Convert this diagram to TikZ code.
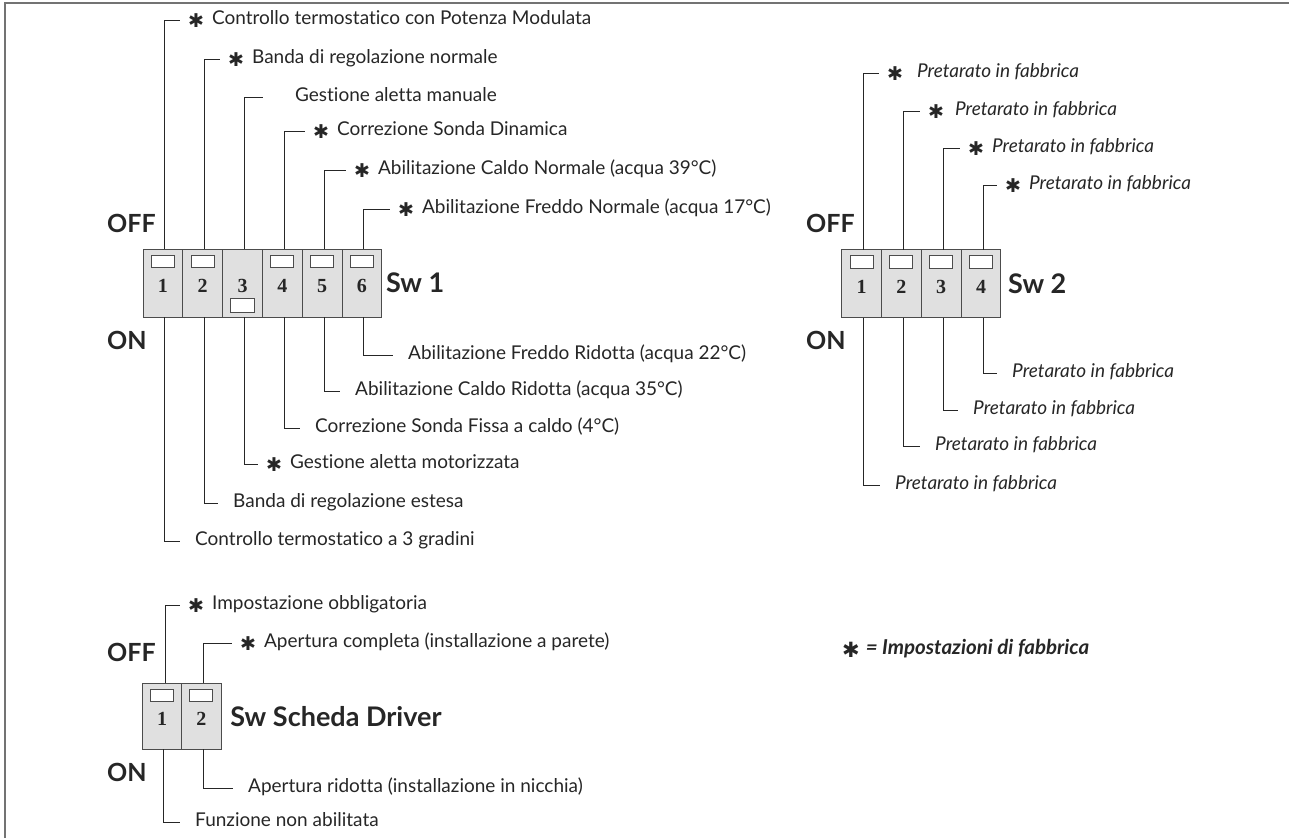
\documentclass[tikz,border=0pt]{standalone}
\usepackage{fontspec}
\setmainfont{Lato}[Ligatures=NoCommon]
\newfontfamily\starfont{DejaVu Sans}
\newfontfamily\numfont{Liberation Serif}
\usetikzlibrary{positioning}

% asterisk mark in front of a factory setting
\newcommand{\st}{\raisebox{-2.5pt}{\starfont\fontsize{19}{19}\selectfont ✱}\hspace{8pt}}
\newcommand{\nost}{\phantom{\st}}

\begin{document}
\begin{tikzpicture}
    [x=1pt, y=-1pt,
     cell/.style={draw=black!70, fill=black!12, line width=1pt,
       minimum width=39.8pt, minimum height=68pt, inner sep=0pt, outer sep=0pt,
       font=\numfont\bfseries\fontsize{20}{20}\selectfont, text=black!85,
       text height=19.5pt, text depth=0pt},
     knobup/.style={cell, path picture={
       \draw[fill=white, line width=1pt]
         ([xshift=-11.5pt, yshift=-6pt]path picture bounding box.north)
         rectangle ([xshift=11.5pt, yshift=-18.7pt]path picture bounding box.north);}},
     knobdown/.style={cell, path picture={
       \draw[fill=white, line width=1pt]
         ([xshift=-12pt, yshift=4.7pt]path picture bounding box.south)
         rectangle ([xshift=12pt, yshift=18.7pt]path picture bounding box.south);}},
     toplab/.style={anchor=west, inner xsep=8pt, inner ysep=0pt, text=black!85,
       font=\fontsize{19}{22}\selectfont, text height=13pt, text depth=4pt},
     botlab/.style={toplab, inner xsep=15pt},
     itop/.style={toplab, font=\fontsize{19}{22}\selectfont\itshape},
     ibot/.style={botlab, font=\fontsize{19}{22}\selectfont\itshape},
     state/.style={anchor=west, inner sep=0pt, text=black!85,
       font=\bfseries\fontsize{25}{25}\selectfont},
     swname/.style={inner sep=0pt, text=black!85,
       font=\bfseries\fontsize{27}{27}\selectfont},
     lead/.style={draw=black!85, line width=1pt}]

    \useasboundingbox (0,0) rectangle (1289,838);
    \draw[black!55, line width=1.3pt] (5,838) -- (5,3) -- (1289,3);

    % Sw 1
    \node[knobup] (s1a) at (162.9,283) {1};
    \node[knobup, right=0pt of s1a] (s1b) {2};
    \node[knobdown, right=0pt of s1b] (s1c) {3};
    \node[knobup, right=0pt of s1c] (s1d) {4};
    \node[knobup, right=0pt of s1d] (s1e) {5};
    \node[knobup, right=0pt of s1e] (s1f) {6};
    \node[swname, right=4pt of s1f] (sw1) {Sw 1};
    \node[state] (off1) at (107,223) {OFF};
    \node[state] (on1) at (107,340) {ON};

    \node[toplab] (t1a) at (180,20) {\st Controllo termostatico con Potenza Modulata};
    \node[toplab] (t1b) at (220,59) {\st Banda di regolazione normale};
    \node[toplab] (t1c) at (263,97) {\nost Gestione aletta manuale};
    \node[toplab] (t1d) at (305,131) {\st Correzione Sonda Dinamica};
    \node[toplab] (t1e) at (346,170) {\st Abilitazione Caldo Normale (acqua 39°C)};
    \node[toplab] (t1f) at (390,209) {\st Abilitazione Freddo Normale (acqua 17°C)};

    \node[botlab] (b1a) at (180,541) {Controllo termostatico a 3 gradini};
    \node[botlab] (b1b) at (218,503) {Banda di regolazione estesa};
    \node[toplab] (b1c) at (258,464) {\st Gestione aletta motorizzata};
    \node[botlab] (b1d) at (300,428) {Correzione Sonda Fissa a caldo (4°C)};
    \node[botlab] (b1e) at (340,391) {Abilitazione Caldo Ridotta (acqua 35°C)};
    \node[botlab] (b1f) at (393,355) {Abilitazione Freddo Ridotta (acqua 22°C)};

    \draw[lead] ([xshift=2pt]s1a.north) |- (t1a.west);
    \draw[lead] ([xshift=2pt]s1b.north) |- (t1b.west);
    \draw[lead] ([xshift=2pt]s1c.north) |- (t1c.west);
    \draw[lead] ([xshift=2pt]s1d.north) |- (t1d.west);
    \draw[lead] ([xshift=2pt]s1e.north) |- (t1e.west);
    \draw[lead] ([xshift=2pt]s1f.north) |- (t1f.west);
    \draw[lead] ([xshift=2pt]s1a.south) |- (b1a.west);
    \draw[lead] ([xshift=2pt]s1b.south) |- (b1b.west);
    \draw[lead] ([xshift=2pt]s1c.south) |- (b1c.west);
    \draw[lead] ([xshift=2pt]s1d.south) |- (b1d.west);
    \draw[lead] ([xshift=2pt]s1e.south) |- (b1e.west);
    \draw[lead] ([xshift=2pt]s1f.south) |- (b1f.west);

    % Sw 2
    \node[knobup] (s2a) at (861.6,283.7) {1};
    \node[knobup, right=0pt of s2a] (s2b) {2};
    \node[knobup, right=0pt of s2b] (s2c) {3};
    \node[knobup, right=0pt of s2c] (s2d) {4};
    \node[swname, right=7pt of s2d] (sw2) {Sw 2};
    \node[state] (off2) at (806,223) {OFF};
    \node[state] (on2) at (806,340) {ON};

    \node[itop] (t2a) at (879,73) {\st\hspace{6pt}Pretarato in fabbrica};
    \node[itop] (t2b) at (920,111) {\st\hspace{3pt}Pretarato in fabbrica};
    \node[itop] (t2c) at (960,148) {\st Pretarato in fabbrica};
    \node[itop] (t2d) at (997,185) {\st Pretarato in fabbrica};
    \node[ibot] (b2a) at (880,485) {Pretarato in fabbrica};
    \node[ibot] (b2b) at (920,446) {Pretarato in fabbrica};
    \node[ibot] (b2c) at (958,410) {Pretarato in fabbrica};
    \node[ibot] (b2d) at (997,373) {Pretarato in fabbrica};

    \draw[lead] ([xshift=2pt]s2a.north) |- (t2a.west);
    \draw[lead] ([xshift=2pt]s2b.north) |- (t2b.west);
    \draw[lead] ([xshift=2pt]s2c.north) |- (t2c.west);
    \draw[lead] ([xshift=2pt]s2d.north) |- (t2d.west);
    \draw[lead] ([xshift=2pt]s2a.south) |- (b2a.west);
    \draw[lead] ([xshift=2pt]s2b.south) |- (b2b.west);
    \draw[lead] ([xshift=2pt]s2c.south) |- (b2c.west);
    \draw[lead] ([xshift=2pt]s2d.south) |- (b2d.west);

    % Sw scheda driver
    \node[knobup, minimum width=39.4pt, minimum height=66pt] (sda) at (162,716.2) {1};
    \node[knobup, minimum width=39.4pt, minimum height=66pt, right=0pt of sda] (sdb) {2};
    \node[swname, right=9pt of sdb] (swd) {Sw Scheda Driver};
    \node[state] (offd) at (107,652) {OFF};
    \node[state] (ond) at (107,772) {ON};

    \node[toplab] (tda) at (180,605) {\st Impostazione obbligatoria};
    \node[toplab] (tdb) at (232,643) {\st Apertura completa (installazione a parete)};
    \node[botlab] (bda) at (180,822) {Funzione non abilitata};
    \node[botlab] (bdb) at (233,788) {Apertura ridotta (installazione in nicchia)};

    \draw[lead] ([xshift=3pt]sda.north) |- (tda.west);
    \draw[lead] ([xshift=2pt]sdb.north) |- (tdb.west);
    \draw[lead] ([xshift=1pt]sda.south) |- (bda.west);
    \draw[lead] ([xshift=2pt]sdb.south) |- (bdb.west);

    % legenda
    \node[anchor=west, inner sep=0pt, text=black!85,
      font=\bfseries\itshape\fontsize{20.5}{20.5}\selectfont] (legend) at (842,649)
      {\raisebox{-3pt}{\starfont\fontsize{21}{21}\selectfont ✱}\hspace{6pt}= Impostazioni di fabbrica};
\end{tikzpicture}
\end{document}
